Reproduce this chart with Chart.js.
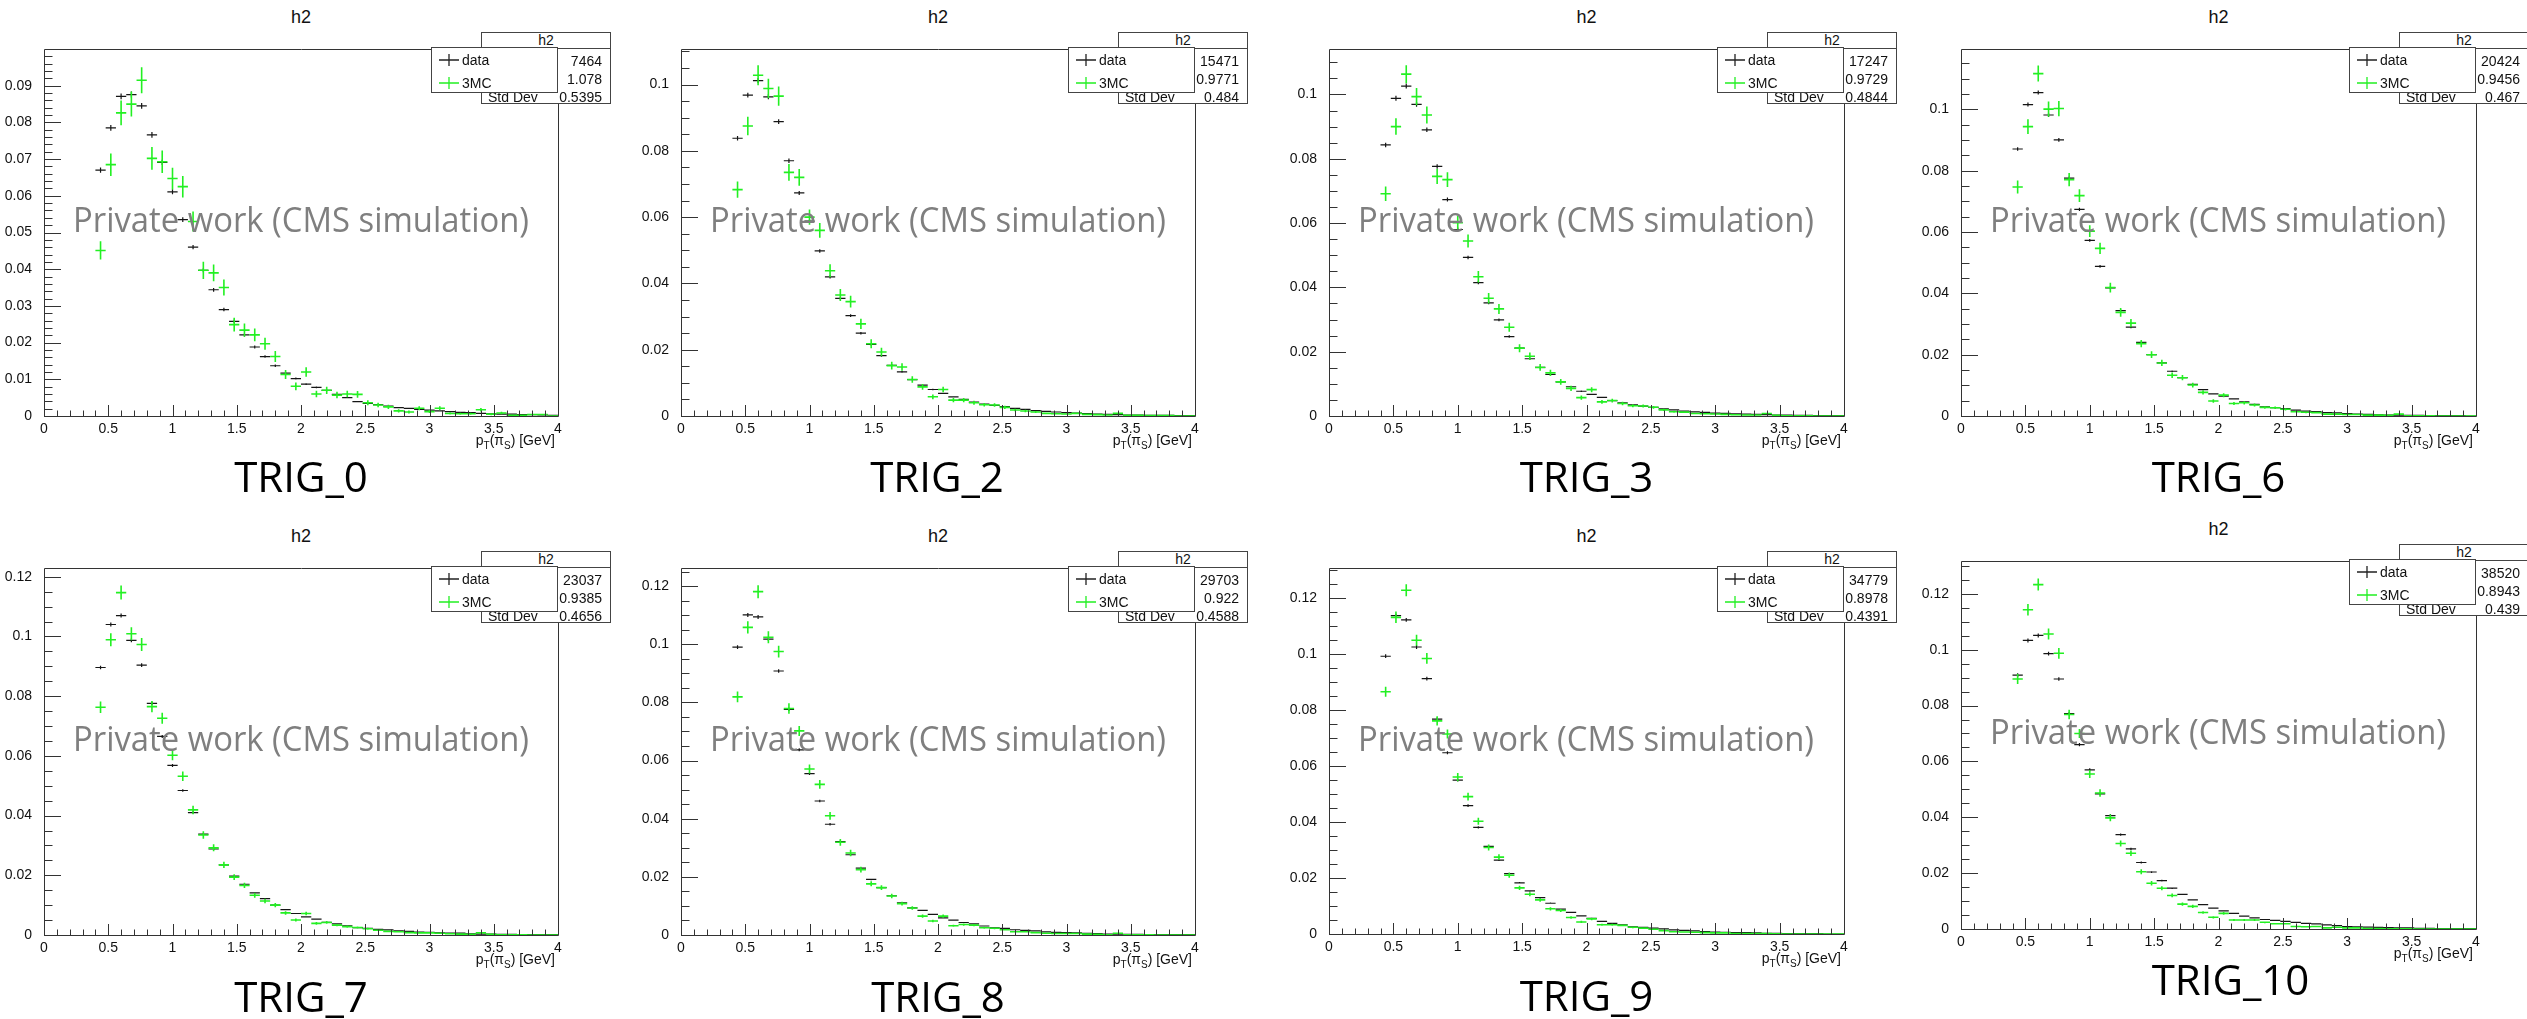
<!DOCTYPE html>
<html>
<head>
<meta charset="utf-8">
<title>h2 - TRIG comparison</title>
<script src="https://cdn.jsdelivr.net/npm/chart.js@4.4.1/dist/chart.umd.min.js"></script>
<style>
  body { margin: 0; width: 2527px; height: 1019px; position: relative; overflow: hidden; background: #fff;
         font-family: "Liberation Sans", Arial, sans-serif; color: #111; }
  .abs { position: absolute; }
  .title { font-size: 18px; line-height: 20px; text-align: center; width: 100px; }
  .stat { border: 1px solid #444; background: #fff; box-sizing: border-box; width: 130px; height: 72px; font-size: 14px; }
  .stat .head { height: 15px; line-height: 15px; border-bottom: 1px solid #444; text-align: center; }
  .stat .row { position: absolute; left: 6px; right: 8px; height: 16px; line-height: 16px; }
  .stat .row span { float: right; }
  .legend { border: 1px solid #444; background: #fff; box-sizing: border-box; width: 127px; height: 46px; font-size: 14px; }
  .legend .entry { position: absolute; left: 4px; height: 16px; line-height: 16px; }
  .legend svg { position: absolute; left: 2px; top: 1px; }
  .legend .txt { position: absolute; left: 26px; top: 0; }
  .mark { font-family: "Open Sans", "Noto Sans", sans-serif; font-size: 35px; line-height: 35px; color: #7f7f7f;
          white-space: nowrap; transform-origin: 0 0; }
  .trig { font-family: "Open Sans", "Noto Sans", sans-serif; font-size: 42px; line-height: 42px; color: #000;
          white-space: nowrap; width: 300px; text-align: center; }
  .xtitle { font-size: 14px; line-height: 16px; white-space: nowrap; text-align: right; width: 200px; }
  .xtitle sub { font-size: 10px; vertical-align: -4px; line-height: 0; }
</style>
</head>
<body>
<script>
// bin centres of the p_T(pi_S) histogram [GeV]
const binCenters = [0.44, 0.52, 0.60, 0.68, 0.76, 0.84, 0.92, 1.00, 1.08, 1.16,
                    1.24, 1.32, 1.40, 1.48, 1.56, 1.64, 1.72, 1.80, 1.88, 1.96,
                    2.04, 2.12, 2.20, 2.28, 2.36, 2.44, 2.52, 2.60, 2.68, 2.76,
                    2.84, 2.92, 3.00, 3.08, 3.16, 3.24, 3.32, 3.40, 3.48, 3.56,
                    3.64, 3.72, 3.80, 3.88, 3.96];
const binHalfWidth = 0.04;

const trigNames = ['TRIG_0', 'TRIG_2', 'TRIG_3', 'TRIG_6', 'TRIG_7', 'TRIG_8', 'TRIG_9', 'TRIG_10'];
const statEntries = ['7464', '15471', '17247', '20424', '23037', '29703', '34779', '38520'];
const statMean = ['1.078', '0.9771', '0.9729', '0.9456', '0.9385', '0.922', '0.8978', '0.8943'];
const statStdDev = ['0.5395', '0.484', '0.4844', '0.467', '0.4656', '0.4588', '0.4391', '0.439'];

// y axis ranges and tick steps
const yAxisMax = [0.0999, 0.1106, 0.1140, 0.1196, 0.1228, 0.1261, 0.1307, 0.1316];
const yMajorStep = [0.01, 0.02, 0.02, 0.02, 0.02, 0.02, 0.02, 0.02];
const yMinorStep = [0.002, 0.005, 0.005, 0.005, 0.005, 0.005, 0.005, 0.005];
const xTickLabels = [0, 0.5, 1, 1.5, 2, 2.5, 3, 3.5, 4];

const dataTrig0 = [0.0670, 0.0785, 0.0871, 0.0876, 0.0845, 0.0766, 0.0691, 0.0611, 0.0535, 0.0460,
  0.0397, 0.0344, 0.0290, 0.0258, 0.0221, 0.0188, 0.0162, 0.0137, 0.0117, 0.0102,
  0.0087, 0.0078, 0.0070, 0.0059, 0.0050, 0.0039, 0.0034, 0.0031, 0.0027, 0.0023,
  0.0021, 0.0018, 0.0016, 0.0014, 0.0012, 0.0010, 0.0009, 0.0007, 0.0006, 0.0005,
  0.0005, 0.0004, 0.0004, 0.0003, 0.0002];
const mcTrig0 = [0.0451, 0.0685, 0.0826, 0.0850, 0.0915, 0.0702, 0.0693, 0.0647, 0.0625, 0.0530,
  0.0397, 0.0390, 0.0350, 0.0249, 0.0234, 0.0221, 0.0197, 0.0162, 0.0113, 0.0081,
  0.0120, 0.0060, 0.0070, 0.0057, 0.0060, 0.0059, 0.0036, 0.0030, 0.0025, 0.0014,
  0.0011, 0.0021, 0.0012, 0.0021, 0.0007, 0.0006, 0.0006, 0.0017, 0.0005, 0.0008,
  0.0002, 0.0002, 0.0004, 0.0004, 0];

const dataTrig2 = [0.0838, 0.0968, 0.1012, 0.0963, 0.0888, 0.0770, 0.0673, 0.0588, 0.0498, 0.0420,
  0.0355, 0.0303, 0.0250, 0.0216, 0.0182, 0.0153, 0.0133, 0.0110, 0.0093, 0.0080,
  0.0068, 0.0058, 0.0050, 0.0042, 0.0036, 0.0032, 0.0028, 0.0023, 0.0020, 0.0016,
  0.0014, 0.0012, 0.0010, 0.0009, 0.0007, 0.0006, 0.0005, 0.0004, 0.0003, 0.0003,
  0.0002, 0.0002, 0.0002, 0.0001, 0.0001];
const mcTrig2 = [0.0683, 0.0875, 0.1028, 0.0988, 0.0965, 0.0735, 0.0720, 0.0600, 0.0560, 0.0438,
  0.0365, 0.0345, 0.0278, 0.0218, 0.0193, 0.0152, 0.0148, 0.0110, 0.0088, 0.0058,
  0.0080, 0.0048, 0.0048, 0.0040, 0.0034, 0.0033, 0.0026, 0.0018, 0.0015, 0.0012,
  0.0008, 0.0007, 0.0006, 0.0008, 0.0005, 0.0004, 0.0003, 0.0008, 0.0002, 0.0002,
  0.0001, 0.0001, 0.0001, 0, 0];

const dataTrig3 = [0.0843, 0.0988, 0.1026, 0.0969, 0.0890, 0.0776, 0.0673, 0.0580, 0.0493, 0.0415,
  0.0352, 0.0299, 0.0247, 0.0211, 0.0178, 0.0151, 0.0129, 0.0106, 0.0091, 0.0077,
  0.0067, 0.0058, 0.0048, 0.0041, 0.0035, 0.0031, 0.0027, 0.0022, 0.0019, 0.0015,
  0.0013, 0.0011, 0.0009, 0.0008, 0.0007, 0.0006, 0.0005, 0.0004, 0.0003, 0.0003,
  0.0002, 0.0002, 0.0001, 0.0001, 0.0001];
const mcTrig3 = [0.0691, 0.0900, 0.1063, 0.0993, 0.0936, 0.0745, 0.0735, 0.0601, 0.0544, 0.0433,
  0.0366, 0.0333, 0.0276, 0.0211, 0.0186, 0.0151, 0.0134, 0.0106, 0.0086, 0.0057,
  0.0082, 0.0044, 0.0048, 0.0039, 0.0032, 0.0031, 0.0027, 0.0019, 0.0013, 0.0012,
  0.0008, 0.0007, 0.0006, 0.0005, 0.0004, 0.0003, 0.0003, 0.0008, 0.0002, 0.0001,
  0.0001, 0.0001, 0, 0, 0];

const dataTrig6 = [0.0871, 0.1016, 0.1055, 0.0982, 0.0901, 0.0776, 0.0674, 0.0573, 0.0488, 0.0418,
  0.0344, 0.0290, 0.0240, 0.0200, 0.0173, 0.0146, 0.0125, 0.0103, 0.0086, 0.0072,
  0.0065, 0.0056, 0.0046, 0.0038, 0.0030, 0.0027, 0.0024, 0.0019, 0.0016, 0.0014,
  0.0011, 0.0010, 0.0008, 0.0006, 0.0005, 0.0004, 0.0003, 0.0003, 0.0002, 0.0002,
  0.0001, 0.0001, 0.0001, 0.0001, 0];
const mcTrig6 = [0.0747, 0.0944, 0.1117, 0.1001, 0.1003, 0.0771, 0.0719, 0.0603, 0.0547, 0.0419,
  0.0338, 0.0303, 0.0236, 0.0200, 0.0173, 0.0133, 0.0125, 0.0101, 0.0077, 0.0049,
  0.0068, 0.0041, 0.0043, 0.0036, 0.0028, 0.0027, 0.0022, 0.0014, 0.0012, 0.0011,
  0.0006, 0.0006, 0.0005, 0.0005, 0.0003, 0.0003, 0.0002, 0.0006, 0.0001, 0.0001,
  0.0001, 0, 0, 0, 0];

const dataTrig7 = [0.0896, 0.1040, 0.1070, 0.0987, 0.0904, 0.0776, 0.0665, 0.0568, 0.0484, 0.0410,
  0.0338, 0.0288, 0.0235, 0.0197, 0.0170, 0.0141, 0.0122, 0.0100, 0.0085, 0.0072,
  0.0061, 0.0053, 0.0042, 0.0037, 0.0031, 0.0025, 0.0022, 0.0019, 0.0017, 0.0014,
  0.0012, 0.0010, 0.0009, 0.0007, 0.0006, 0.0006, 0.0004, 0.0003, 0.0003, 0.0002,
  0.0002, 0.0001, 0.0001, 0.0001, 0.0001];
const mcTrig7 = [0.0763, 0.0989, 0.1147, 0.1009, 0.0973, 0.0765, 0.0726, 0.0602, 0.0532, 0.0419,
  0.0335, 0.0292, 0.0235, 0.0194, 0.0166, 0.0133, 0.0114, 0.0100, 0.0074, 0.0050,
  0.0072, 0.0039, 0.0042, 0.0033, 0.0028, 0.0025, 0.0021, 0.0016, 0.0012, 0.0011,
  0.0008, 0.0007, 0.0007, 0.0006, 0.0004, 0.0003, 0.0002, 0.0007, 0.0002, 0.0001,
  0.0001, 0.0001, 0, 0, 0];

const dataTrig8 = [0.0990, 0.1101, 0.1094, 0.1018, 0.0908, 0.0776, 0.0637, 0.0555, 0.0461, 0.0381,
  0.0321, 0.0276, 0.0230, 0.0191, 0.0163, 0.0135, 0.0111, 0.0093, 0.0085, 0.0071,
  0.0059, 0.0051, 0.0043, 0.0038, 0.0031, 0.0025, 0.0023, 0.0018, 0.0016, 0.0014,
  0.0011, 0.0009, 0.0008, 0.0007, 0.0006, 0.0005, 0.0003, 0.0003, 0.0002, 0.0002,
  0.0001, 0.0001, 0.0001, 0.0001, 0.0001];
const mcTrig8 = [0.0819, 0.1058, 0.1181, 0.1024, 0.0975, 0.0779, 0.0702, 0.0571, 0.0518, 0.0410,
  0.0319, 0.0282, 0.0225, 0.0176, 0.0163, 0.0134, 0.0108, 0.0093, 0.0065, 0.0048,
  0.0065, 0.0032, 0.0036, 0.0034, 0.0025, 0.0023, 0.0018, 0.0011, 0.0011, 0.0008,
  0.0006, 0.0005, 0.0005, 0.0005, 0.0003, 0.0002, 0.0001, 0.0006, 0.0001, 0.0001,
  0.0001, 0, 0, 0, 0];

const dataTrig9 = [0.0993, 0.1138, 0.1123, 0.1026, 0.0913, 0.0768, 0.0648, 0.0550, 0.0459, 0.0381,
  0.0313, 0.0264, 0.0216, 0.0183, 0.0154, 0.0130, 0.0110, 0.0089, 0.0077, 0.0065,
  0.0056, 0.0045, 0.0038, 0.0033, 0.0026, 0.0024, 0.0021, 0.0018, 0.0015, 0.0013,
  0.0011, 0.0009, 0.0007, 0.0006, 0.0005, 0.0005, 0.0004, 0.0002, 0.0002, 0.0001,
  0.0001, 0.0001, 0.0001, 0, 0];
const mcTrig9 = [0.0866, 0.1132, 0.1229, 0.1050, 0.0985, 0.0762, 0.0715, 0.0561, 0.0491, 0.0403,
  0.0309, 0.0275, 0.0210, 0.0165, 0.0142, 0.0122, 0.0090, 0.0084, 0.0059, 0.0043,
  0.0054, 0.0033, 0.0033, 0.0031, 0.0024, 0.0021, 0.0017, 0.0012, 0.0008, 0.0007,
  0.0006, 0.0005, 0.0004, 0.0004, 0.0002, 0.0002, 0.0002, 0.0002, 0.0001, 0,
  0, 0, 0, 0, 0];

const dataTrig10 = [0.0909, 0.1033, 0.1051, 0.0986, 0.0895, 0.0771, 0.0660, 0.0570, 0.0484, 0.0406,
  0.0338, 0.0287, 0.0238, 0.0204, 0.0173, 0.0146, 0.0124, 0.0104, 0.0087, 0.0075,
  0.0065, 0.0056, 0.0046, 0.0040, 0.0034, 0.0031, 0.0027, 0.0024, 0.0020, 0.0018,
  0.0015, 0.0012, 0.0009, 0.0008, 0.0007, 0.0006, 0.0005, 0.0004, 0.0004, 0.0002,
  0.0002, 0.0001, 0.0001, 0.0001, 0.0001];
const mcTrig10 = [0.0895, 0.1143, 0.1233, 0.1056, 0.0987, 0.0768, 0.0700, 0.0555, 0.0487, 0.0398,
  0.0306, 0.0271, 0.0205, 0.0164, 0.0146, 0.0120, 0.0089, 0.0081, 0.0059, 0.0042,
  0.0056, 0.0032, 0.0032, 0.0032, 0.0024, 0.0019, 0.0019, 0.0009, 0.0008, 0.0009,
  0.0004, 0.0006, 0.0004, 0.0004, 0.0002, 0.0002, 0.0001, 0.0001, 0.0001, 0,
  0, 0, 0, 0, 0];

const dataSeries = [dataTrig0, dataTrig2, dataTrig3, dataTrig6, dataTrig7, dataTrig8, dataTrig9, dataTrig10];
const mcSeries = [mcTrig0, mcTrig2, mcTrig3, mcTrig6, mcTrig7, mcTrig8, mcTrig9, mcTrig10];

// layout: frame of every pad in page pixels
const panelBoxes = [
  { l: 44, r: 558, t: 47, b: 416 }, { l: 681, r: 1195, t: 47, b: 416 },
  { l: 1329, r: 1844, t: 47, b: 416 }, { l: 1961, r: 2476, t: 47, b: 416 },
  { l: 44, r: 558, t: 566, b: 935 }, { l: 681, r: 1195, t: 566, b: 935 },
  { l: 1329, r: 1844, t: 566, b: 934 }, { l: 1961, r: 2476, t: 559, b: 929 }
];
const trigLabelTop = [39, 39, 39, 39, 40, 40, 40, 29];
const trigLabelShift = [0, -1, 0, 0, 0, 0, 0, 12];
const mcErrPx = [13, 10, 9, 8, 7, 6.5, 6, 6];
const dataErrPx = [3, 2.5, 2.5, 2, 2, 2, 2, 2];

const Y_AXIS_W = 52, X_AXIS_H = 40, PAD_L = 8, PAD_T = 10, PAD_R = 24;

Chart.defaults.font.family = '"Liberation Sans", Arial, sans-serif';
Chart.defaults.font.size = 14;
Chart.defaults.color = '#111';

function fmtTick(v) {
  return String(parseFloat(Number(v).toFixed(4)));
}

// ROOT style frame with inward ticks
const rootFrame = {
  id: 'rootFrame',
  afterDraw(chart, args, opts) {
    const ctx = chart.ctx, a = chart.chartArea, xs = chart.scales.x, ys = chart.scales.y;
    ctx.save();
    ctx.strokeStyle = '#333';
    ctx.lineWidth = 1;
    ctx.beginPath();
    ctx.rect(Math.round(a.left) + 0.5, Math.round(a.top) + 0.5, Math.round(a.width), Math.round(a.height));
    for (let k = 0; k <= 40; k++) {
      const px = Math.round(xs.getPixelForValue(k * 0.1)) + 0.5;
      const len = k % 5 === 0 ? 11 : 5.5;
      ctx.moveTo(px, a.bottom);
      ctx.lineTo(px, a.bottom - len);
    }
    const n = Math.floor(ys.max / opts.minor + 1e-6);
    for (let k = 0; k <= n; k++) {
      const v = k * opts.minor;
      const py = Math.round(ys.getPixelForValue(v)) + 0.5;
      const r = v / opts.major;
      const len = Math.abs(r - Math.round(r)) < 1e-6 ? 17 : 8.5;
      ctx.moveTo(a.left, py);
      ctx.lineTo(a.left + len, py);
    }
    ctx.stroke();
    ctx.restore();
  }
};

// histogram markers: horizontal bin-width bar plus vertical error bar
const errorCrosses = {
  id: 'errorCrosses',
  afterDatasetsDraw(chart) {
    const ctx = chart.ctx, xs = chart.scales.x, a = chart.chartArea;
    ctx.save();
    ctx.beginPath();
    ctx.rect(a.left, a.top - 20, a.width, a.height + 20);
    ctx.clip();
    chart.data.datasets.forEach((ds, di) => {
      const meta = chart.getDatasetMeta(di);
      const peak = Math.max(...ds.data.map(p => p.y));
      ctx.strokeStyle = ds.borderColor;
      ctx.lineWidth = ds.borderWidth;
      ctx.beginPath();
      meta.data.forEach((el, k) => {
        const p = ds.data[k];
        const x0 = xs.getPixelForValue(p.x - binHalfWidth);
        const x1 = xs.getPixelForValue(p.x + binHalfWidth);
        const ey = ds.errPx * Math.sqrt(p.y / peak);
        ctx.moveTo(x0, el.y);
        ctx.lineTo(x1, el.y);
        if (ey > 0.6) {
          ctx.moveTo(el.x, el.y - ey);
          ctx.lineTo(el.x, el.y + ey);
        }
      });
      ctx.stroke();
    });
    ctx.restore();
  }
};

function addDiv(cls, css, html) {
  const d = document.createElement('div');
  d.className = 'abs ' + cls;
  Object.assign(d.style, css);
  d.innerHTML = html;
  document.body.appendChild(d);
  return d;
}

function crossSvg(color) {
  return '<svg width="22" height="14"><path d="M1 7H21M11 1V13" stroke="' + color +
         '" stroke-width="1.3" fill="none"/></svg>';
}

function makePanel(i) {
  const box = panelBoxes[i];
  const cx = (box.l + box.r) / 2;

  const cv = document.createElement('canvas');
  cv.width = (box.r - box.l) + Y_AXIS_W + PAD_L + PAD_R;
  cv.height = (box.b - box.t) + PAD_T + X_AXIS_H;
  cv.className = 'abs';
  cv.style.left = (box.l - Y_AXIS_W - PAD_L) + 'px';
  cv.style.top = (box.t - PAD_T) + 'px';
  document.body.appendChild(cv);

  new Chart(cv, {
    type: 'scatter',
    data: {
      datasets: [
        {
          label: 'data',
          data: binCenters.map((x, k) => ({ x: x, y: dataSeries[i][k] })),
          borderColor: '#151515', borderWidth: 1.2, errPx: dataErrPx[i],
          pointRadius: 0, showLine: false
        },
        {
          label: '3MC',
          data: binCenters.map((x, k) => ({ x: x, y: mcSeries[i][k] })),
          borderColor: '#22f022', borderWidth: 1.6, errPx: mcErrPx[i],
          pointRadius: 0, showLine: false
        }
      ]
    },
    options: {
      responsive: false,
      animation: false,
      devicePixelRatio: 1,
      layout: { padding: { left: PAD_L, top: PAD_T, right: PAD_R, bottom: 0 } },
      plugins: {
        legend: { display: false },
        tooltip: { enabled: false },
        rootFrame: { major: yMajorStep[i], minor: yMinorStep[i] }
      },
      scales: {
        x: {
          type: 'linear', min: 0, max: 4,
          afterFit: s => { s.height = X_AXIS_H; },
          afterBuildTicks: s => { s.ticks = xTickLabels.map(v => ({ value: v })); },
          grid: { display: false },
          border: { display: false },
          ticks: { padding: -3, maxRotation: 0, autoSkip: false, color: '#111', callback: fmtTick }
        },
        y: {
          type: 'linear', min: 0, max: yAxisMax[i],
          afterFit: s => { s.width = Y_AXIS_W; },
          grid: { display: false },
          border: { display: false },
          ticks: { stepSize: yMajorStep[i], includeBounds: false, padding: 4, autoSkip: false,
                   color: '#111', callback: fmtTick }
        }
      }
    },
    plugins: [errorCrosses, rootFrame]
  });

  // pad title
  addDiv('title', { left: (cx - 50) + 'px', top: (box.t - 40) + 'px' }, 'h2');

  // statistics box
  addDiv('stat', { left: (box.r - 77) + 'px', top: (box.t - 15) + 'px' },
    '<div class="head">h2</div>' +
    '<div class="row" style="top:20px">Entries<span>' + statEntries[i] + '</span></div>' +
    '<div class="row" style="top:38px">Mean<span>' + statMean[i] + '</span></div>' +
    '<div class="row" style="top:56px">Std Dev<span>' + statStdDev[i] + '</span></div>');

  // legend box
  addDiv('legend', { left: (box.r - 127) + 'px', top: box.t + 'px' },
    '<div class="entry" style="top:4px;width:120px">' + crossSvg('#222') + '<span class="txt">data</span></div>' +
    '<div class="entry" style="top:27px;width:120px">' + crossSvg('#22f022') + '<span class="txt">3MC</span></div>');

  // x axis title
  addDiv('xtitle', { left: (box.r - 203) + 'px', top: (box.b + 16) + 'px' },
    'p<sub>T</sub>(π<sub>S</sub>) [GeV]');

  // watermark, stretched to the width it has in the pad
  const wm = addDiv('mark', { left: (box.l + 29) + 'px', top: (box.t + 154) + 'px' },
    'Private work (CMS simulation)');
  const w = wm.getBoundingClientRect().width;
  wm.style.transform = 'scaleX(' + (456 / w).toFixed(4) + ')';

  // trigger label under the pad
  addDiv('trig', { left: (cx - 150 + trigLabelShift[i]) + 'px', top: (box.b + trigLabelTop[i]) + 'px' },
    trigNames[i]);
}

window.onload = function () {
  for (let i = 0; i < panelBoxes.length; i++) makePanel(i);
};
</script>
</body>
</html>
